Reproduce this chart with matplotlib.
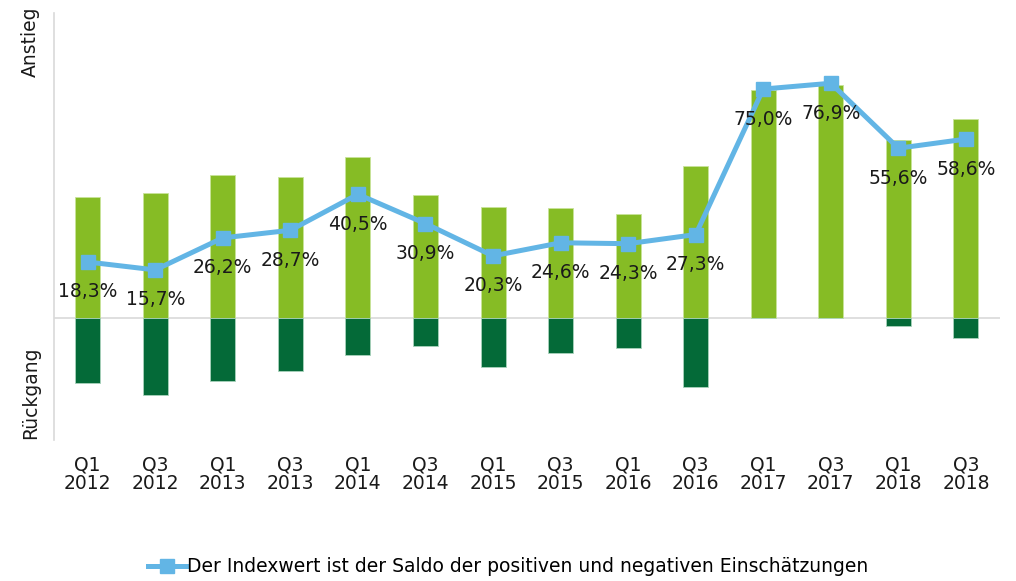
import matplotlib
matplotlib.use('Agg')
import matplotlib.pyplot as plt
import numpy as np

# data
# ----
quarters = ['Q1\n2012', 'Q3\n2012', 'Q1\n2013', 'Q3\n2013', 'Q1\n2014', 'Q3\n2014', 'Q1\n2015',
            'Q3\n2015', 'Q1\n2016', 'Q3\n2016', 'Q1\n2017', 'Q3\n2017', 'Q1\n2018', 'Q3\n2018']
anstieg = [39.6, 40.9, 46.8, 46.1, 52.6, 40.1, 36.4, 36.1, 34.1, 49.9, 74.6, 76.4, 58.2, 65.2]
rueckgang = [21.3, 25.2, 20.6, 17.4, 12.1, 9.2, 16.1, 11.5, 9.8, 22.6, 0.0, 0.0, 2.6, 6.6]
index_wert = [18.3, 15.7, 26.2, 28.7, 40.5, 30.9, 20.3, 24.6, 24.3, 27.3, 75.0, 76.9, 55.6, 58.6]

# colours
light_green = '#86BC25'
dark_green = '#046A38'
blue = '#62B5E5'
grey = '#D9D9D9'

plt.rcParams['font.family'] = ['DejaVu Sans']

fig = plt.figure(figsize=(10.16, 5.81), dpi=100)
ax = fig.add_axes([0.053, 0.243, 0.931, 0.735])

x = np.arange(len(quarters))
ax.bar(x, anstieg, width=0.37, color=light_green, edgecolor='#C9E39A', linewidth=0.6, zorder=2)
ax.bar(x, [-v for v in rueckgang], width=0.37, color=dark_green, edgecolor='#A9D3BC', linewidth=0.6, zorder=2)

# zero line
ax.axhline(0, color=grey, linewidth=1.2, zorder=1)

# index line
ax.plot(x, index_wert, color=blue, linewidth=3.6, marker='s', markersize=9.5,
        label='Der Indexwert ist der Saldo der positiven und negativen Einschätzungen', zorder=3)

# data labels
for xi, v in zip(x, index_wert):
    ax.annotate(f'{v:.1f}%'.replace('.', ','), (xi, v), xytext=(0, -30),
                textcoords='offset pixels', ha='center', va='center', fontsize=13.5,
                color='#1a1a1a', zorder=4)

ax.set_xlim(-0.5, len(quarters) - 0.5)
ax.set_ylim(-40, 100)
ax.set_xticks(x)
ax.set_xticklabels(quarters, fontsize=13.5, color='#1a1a1a', linespacing=1.0)
ax.set_yticks([])
ax.tick_params(axis='x', length=0, pad=11)

for s in ['top', 'right', 'bottom']:
    ax.spines[s].set_visible(False)
ax.spines['left'].set_color(grey)
ax.spines['left'].set_linewidth(1.2)

fig.text(0.030, 1 - 42 / 581, 'Anstieg', rotation=90, ha='center', va='center', fontsize=13.5, color='#1a1a1a')
fig.text(0.030, 1 - 393 / 581, 'Rückgang', rotation=90, ha='center', va='center', fontsize=13.5, color='#1a1a1a')

fig.legend(loc='center', bbox_to_anchor=(0.5, 1 - 567 / 581), frameon=False, fontsize=13.5,
           handlelength=2.0, handletextpad=0.05)

fig.savefig('out.png', dpi=100)
